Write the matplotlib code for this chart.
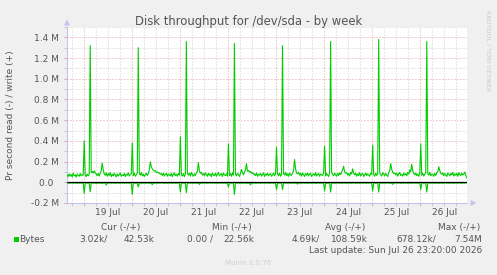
import matplotlib
matplotlib.use("Agg")
import matplotlib.pyplot as plt
import matplotlib.dates as mdates
from matplotlib.patches import Polygon, Rectangle
from datetime import datetime, timedelta
import numpy as np

# ---------------- data (kB per second, 30-minute samples) ----------------
series_start = datetime(2026, 7, 18, 15, 45)
step_minutes = 30

write_jul18 = [70, 55, 82, 60, 75, 52, 88, 64,
               72, 50, 80, 66, 58, 85, 62, 74,
               68]
write_jul19 = [400, 70, 55, 80, 62, 75, 1320, 95,
               105, 88, 112, 92, 78, 65, 85, 60,
               90, 110, 185, 120, 80, 68, 92, 58,
               84, 66, 95, 55, 78, 62, 88, 70,
               52, 82, 60, 76, 90, 58, 72, 64,
               86, 55, 78, 68, 92, 60, 74, 82]
write_jul20 = [380, 65, 88, 58, 72, 90, 1300, 85,
               70, 95, 62, 80, 56, 74, 88, 66,
               82, 120, 197, 150, 130, 118, 108, 112,
               96, 100, 88, 92, 78, 84, 66, 90,
               60, 76, 86, 58, 80, 70, 62, 88,
               55, 74, 92, 64, 78, 58, 84, 70]
write_jul21 = [440, 72, 60, 85, 55, 78, 1360, 92,
               68, 88, 60, 95, 74, 58, 82, 66,
               90, 105, 190, 110, 88, 96, 70, 84,
               62, 92, 76, 58, 86, 68, 80, 54,
               90, 72, 64, 88, 58, 78, 95, 62,
               74, 84, 56, 90, 70, 66, 82, 60]
write_jul22 = [370, 66, 84, 58, 92, 70, 1340, 78,
               62, 88, 74, 56, 86, 125, 95, 72,
               100, 118, 180, 108, 115, 98, 105, 88,
               94, 76, 82, 64, 90, 58, 78, 70,
               86, 60, 74, 92, 56, 80, 68, 88,
               62, 76, 84, 58, 72, 90, 64, 80]
write_jul23 = [340, 80, 62, 90, 58, 74, 1320, 86,
               70, 96, 64, 82, 58, 88, 72, 66,
               92, 110, 220, 130, 90, 82, 98, 70,
               86, 60, 92, 74, 56, 84, 68, 90,
               62, 78, 88, 56, 74, 82, 64, 94,
               60, 76, 86, 58, 80, 72, 66, 88]
write_jul24 = [350, 62, 84, 70, 56, 90, 1360, 96,
               78, 64, 88, 72, 58, 86, 66, 92,
               74, 95, 120, 155, 100, 86, 92, 70,
               84, 62, 96, 80, 130, 90, 72, 88,
               58, 82, 66, 94, 60, 78, 86, 56,
               74, 90, 64, 82, 70, 58, 88, 76]
write_jul25 = [360, 74, 58, 88, 66, 80, 1380, 90,
               72, 60, 94, 78, 62, 86, 70, 56,
               92, 110, 180, 125, 96, 84, 90, 72,
               88, 60, 82, 94, 66, 76, 58, 90,
               70, 84, 62, 96, 78, 120, 100, 175,
               110, 86, 72, 90, 64, 80, 58, 86]
write_jul26 = [370, 68, 86, 60, 78, 92, 1360, 84,
               70, 96, 62, 80, 74, 58, 88, 66,
               94, 100, 150, 112, 86, 78, 92, 64,
               84, 70, 56, 90, 76, 62, 88, 72,
               96, 60, 82, 68, 86, 58, 94, 74,
               64, 90, 70, 80, 98, 66, 43]

read_jul18 = [-8, -6, -9, -7, -8, -5, -9, -7,
              -6, -8, -9, -6, -7, -8, -5, -9,
              -7]
read_jul19 = [-106, -8, -6, -9, -7, -8, -92, -10,
              -7, -9, -6, -8, -12, -7, -9, -6,
              -8, -10, -9, -7, -8, -6, -26, -9,
              -7, -8, -5, -9, -7, -6, -8, -9,
              -7, -6, -8, -7, -9, -6, -8, -7,
              -9, -6, -8, -7, -6, -9, -8, -7]
read_jul20 = [-117, -8, -7, -9, -6, -8, -45, -9,
              -7, -8, -10, -6, -8, -7, -9, -6,
              -8, -9, -7, -10, -22, -7, -9, -6,
              -8, -7, -9, -6, -8, -7, -5, -9,
              -8, -6, -7, -9, -8, -6, -7, -9,
              -8, -6, -7, -8, -9, -6, -7, -8]
read_jul21 = [-94, -7, -9, -6, -8, -7, -100, -8,
              -9, -6, -8, -7, -9, -8, -6, -7,
              -9, -8, -7, -20, -8, -6, -9, -7,
              -8, -6, -9, -7, -8, -6, -7, -9,
              -8, -7, -6, -9, -8, -7, -9, -6,
              -8, -7, -9, -6, -8, -7, -9, -8]
read_jul22 = [-45, -8, -6, -9, -7, -8, -117, -9,
              -7, -8, -6, -9, -7, -8, -9, -6,
              -8, -7, -9, -8, -6, -7, -24, -8,
              -9, -6, -7, -8, -9, -7, -6, -8,
              -9, -7, -8, -6, -9, -8, -7, -6,
              -8, -9, -7, -8, -6, -9, -7, -8]
read_jul23 = [-70, -9, -7, -8, -6, -9, -70, -8,
              -7, -9, -6, -8, -7, -9, -8, -6,
              -7, -9, -8, -7, -9, -18, -8, -6,
              -9, -7, -8, -6, -9, -7, -8, -9,
              -6, -8, -7, -9, -8, -6, -7, -9,
              -8, -7, -6, -9, -8, -7, -9, -6]
read_jul24 = [-85, -7, -9, -8, -6, -7, -94, -9,
              -8, -6, -7, -9, -8, -7, -6, -9,
              -8, -7, -9, -6, -8, -7, -9, -8,
              -6, -7, -9, -8, -7, -6, -8, -9,
              -7, -8, -6, -9, -7, -8, -9, -6,
              -7, -8, -9, -6, -8, -7, -6, -9]
read_jul25 = [-85, -8, -7, -9, -6, -8, -94, -7,
              -9, -8, -6, -7, -9, -8, -7, -6,
              -9, -8, -7, -9, -20, -8, -6, -7,
              -9, -8, -7, -6, -9, -8, -7, -9,
              -6, -8, -7, -9, -8, -6, -7, -9,
              -8, -7, -6, -9, -8, -7, -9, -6]
read_jul26 = [-70, -8, -6, -9, -7, -8, -94, -9,
              -7, -8, -6, -9, -7, -8, -9, -6,
              -8, -7, -9, -8, -6, -7, -9, -8,
              -7, -6, -9, -8, -7, -9, -6, -8,
              -9, -7, -8, -6, -9, -7, -8, -6,
              -9, -8, -7, -6, -8, -7, -3]

y_ticks = [-0.2e6, 0.0, 0.2e6, 0.4e6, 0.6e6, 0.8e6, 1.0e6, 1.2e6, 1.4e6]
y_tick_labels = ["-0.2 M", "0.0  ", "0.2 M", "0.4 M", "0.6 M", "0.8 M",
                 "1.0 M", "1.2 M", "1.4 M"]
y_minor_ticks = [-0.1e6, 0.1e6, 0.3e6, 0.5e6, 0.7e6, 0.9e6, 1.1e6, 1.3e6, 1.5e6]
day_starts = [datetime(2026, 7, d) for d in range(19, 27)]
day_labels = ["19 Jul", "20 Jul", "21 Jul", "22 Jul", "23 Jul", "24 Jul",
              "25 Jul", "26 Jul"]
x_start = datetime(2026, 7, 18, 15, 40)
x_end = datetime(2026, 7, 26, 23, 20)

title = "Disk throughput for /dev/sda - by week"
y_label = "Pr second read (-) / write (+)"
legend_headers = ["Cur (-/+)", "Min (-/+)", "Avg (-/+)", "Max (-/+)"]
legend_name = "Bytes"
legend_values = ["3.02k/", "42.53k", "0.00 /", "22.56k",
                 "4.69k/", "108.59k", "678.12k/", "7.54M"]
last_update = "Last update: Sun Jul 26 23:20:00 2026"
footer = "Munin 2.0.76"
watermark = "RRDTOOL / TOBI OETIKER"

# ---------------- assemble ----------------
write_k = (write_jul18 + write_jul19 + write_jul20 + write_jul21 + write_jul22
           + write_jul23 + write_jul24 + write_jul25 + write_jul26)
read_k = (read_jul18 + read_jul19 + read_jul20 + read_jul21 + read_jul22
          + read_jul23 + read_jul24 + read_jul25 + read_jul26)
times = [series_start + timedelta(minutes=step_minutes * i) for i in range(len(write_k))]
write_v = np.array(write_k, dtype=float) * 1000
read_v = np.array(read_k, dtype=float) * 1000

W, H = 497, 275
L, R, T, B = 67, 467, 27, 203
GREEN = "#00CC00"
TXT = "#555555"
AXC = "#C4C4F2"


def fx(x):
    return x / W


def fy(y):
    return 1 - y / H


fig = plt.figure(figsize=(W / 100, H / 100), dpi=100, facecolor="#F0F0F0")
ax = fig.add_axes([fx(L), fy(B), (R - L) / W, (B - T) / H])
ax.set_facecolor("white")

ax.plot(times, read_v, color=GREEN, lw=0.8, zorder=3)
ax.plot(times, write_v, color=GREEN, lw=0.8, zorder=3)
ax.hlines(0, times[0], times[-1], color="black", lw=0.9, zorder=4)

ax.set_xlim(x_start, x_end)
ax.set_ylim(-0.2e6, 1.5e6)

ax.set_yticks(y_ticks)
ax.set_yticklabels(y_tick_labels)
ax.set_yticks(y_minor_ticks, minor=True)
ax.set_xticks(day_starts)
ax.set_xticklabels([])
ax.xaxis.set_minor_locator(mdates.HourLocator(byhour=[6, 12, 18]))

ax.tick_params(which="major", length=2, width=0.7, color="#E6A0A0",
               labelsize=6.5, labelcolor=TXT, direction="out", pad=4)
ax.tick_params(which="minor", length=2, width=0.7, color="#C8C8C8", direction="out")
ax.grid(which="major", color="#E6A0A0", lw=0.72, linestyle=(0, (1, 2)))
ax.grid(which="minor", color="#CCCCCC", lw=0.72, linestyle=(0, (1, 2)))
ax.set_axisbelow(True)

for s in ["top", "right"]:
    ax.spines[s].set_visible(False)
for s in ["left", "bottom"]:
    ax.spines[s].set_color(AXC)
    ax.spines[s].set_linewidth(0.8)

# day labels centred at noon
xtr = ax.get_xaxis_transform()
for d, lab in zip(day_starts, day_labels):
    ax.text(d + timedelta(hours=12), -(212.5 - B) / (B - T), lab, transform=xtr,
            ha="center", va="center", fontsize=6.5, color=TXT)

# axis arrows
fig.add_artist(Polygon([(fx(64.0), fy(25.5)), (fx(70.0), fy(25.5)), (fx(67.0), fy(19.5))],
                       closed=True, transform=fig.transFigure, color=AXC, lw=0))
fig.add_artist(Polygon([(fx(470.5), fy(200.0)), (fx(470.5), fy(206.0)), (fx(476.5), fy(203.0))],
                       closed=True, transform=fig.transFigure, color=AXC, lw=0))

# texts
fig.text(fx(248.5), fy(24.5), title, ha="center", va="baseline", fontsize=8.4, color=TXT)
fig.text(fx(11), fy(115), y_label, rotation=90, ha="center", va="center",
         fontsize=6.5, color=TXT)
fig.text(fx(487.5), fy(51), watermark, rotation=270, ha="center", va="center",
         fontsize=4.6, color="#C8C8C8")

header_right = [140.7, 252.0, 365.0, 480.0]
for h, xr in zip(legend_headers, header_right):
    fig.text(fx(xr), fy(227.3), h, ha="right", va="center", fontsize=6.5, color=TXT)

fig.add_artist(Rectangle((fx(14), fy(242)), 5 / W, 5 / H, transform=fig.transFigure,
                         color=GREEN, lw=0))
fig.text(fx(19.2), fy(239.3), legend_name, ha="left", va="center", fontsize=6.5, color=TXT)
value_right = [107.7, 154.0, 213.3, 254.0, 320.0, 368.3, 436.0, 482.3]
for v, xr in zip(legend_values, value_right):
    fig.text(fx(xr), fy(239.3), v, ha="right", va="center", fontsize=6.5, color=TXT)

fig.text(fx(482.3), fy(250.7), last_update, ha="right", va="center", fontsize=6.5, color=TXT)
fig.text(fx(248), fy(262.7), footer, ha="center", va="center", fontsize=5, color="#D0D0D0")

fig.savefig("out.png", dpi=100, facecolor=fig.get_facecolor())
